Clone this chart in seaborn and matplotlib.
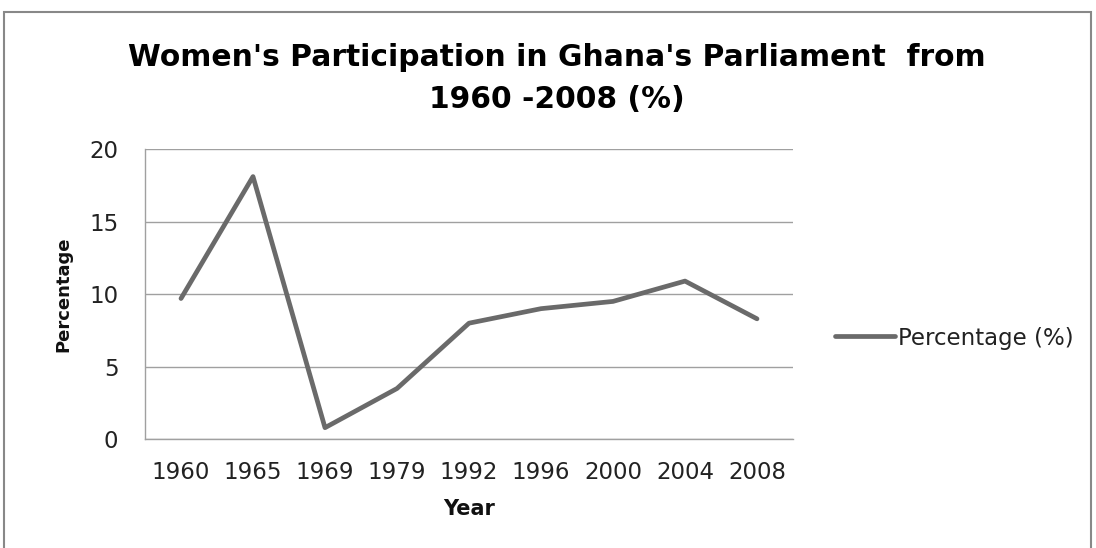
import matplotlib
matplotlib.use("Agg")
import matplotlib.pyplot as plt
import seaborn as sns
import pandas as pd
from matplotlib.patches import Rectangle

years = ["1960", "1965", "1969", "1979", "1992", "1996", "2000", "2004", "2008"]
percentage = [9.7, 18.1, 0.8, 3.5, 8.0, 9.0, 9.5, 10.9, 8.3]
yticks = [0, 5, 10, 15, 20]
series_name = "Percentage (%)"

sns.set_style("white")
plt.rcParams['font.family'] = ['DejaVu Sans']

df = pd.DataFrame({"Year": years, "Percentage": percentage})

fig = plt.figure(figsize=(10.96, 5.48), dpi=100)
ax = fig.add_axes([145/1096, 1-439.3/548, (793-145)/1096, (439.3-149)/548])

sns.lineplot(data=df, x="Year", y="Percentage", ax=ax, color="#6a6a6a",
             linewidth=3.4, label=series_name, sort=False)

ax.set_xlim(-0.5, len(years) - 0.5)
ax.set_ylim(0, 20)
ax.set_yticks(yticks)
ax.set_yticklabels([str(t) for t in yticks])
ax.yaxis.grid(True, color="#a0a0a0", linewidth=1.0)
ax.xaxis.grid(False)
for s in ["top", "right"]:
    ax.spines[s].set_visible(False)
for s in ["left", "bottom"]:
    ax.spines[s].set_color("#a0a0a0")
    ax.spines[s].set_linewidth(1.0)
ax.tick_params(axis="y", length=7.2, color="#a0a0a0", labelsize=16.5, pad=12, labelcolor="#222222")
ax.tick_params(axis="x", length=0, labelsize=16.5, pad=15.5, labelcolor="#222222")

ax.set_xlabel("Year", fontsize=15, fontweight="bold", labelpad=11, color="#111111")
ax.set_ylabel("Percentage", fontsize=13, fontweight="bold", labelpad=12, color="#111111")

fig.text(557/1096, 1-58/548, "Women's Participation in Ghana's Parliament  from",
         ha="center", va="center", fontsize=21.4, fontweight="bold", color="#000000")
fig.text(557/1096, 1-100/548, "1960 -2008 (%)",
         ha="center", va="center", fontsize=21.4, fontweight="bold", color="#000000")

leg = ax.legend(loc="center left", bbox_to_anchor=(835/1096, 1-338/548),
                bbox_transform=fig.transFigure, frameon=False, fontsize=16.5,
                handlelength=2.6, handletextpad=0.15, borderpad=0, borderaxespad=0)
for t in leg.get_texts():
    t.set_color("#222222")

border = Rectangle((4/1096, -0.1), (1091-4)/1096, 1.1 - 12/548,
                   transform=fig.transFigure, fill=False, edgecolor="#888888",
                   linewidth=1.5)
fig.patches.append(border)

fig.savefig("out.png", dpi=100)
